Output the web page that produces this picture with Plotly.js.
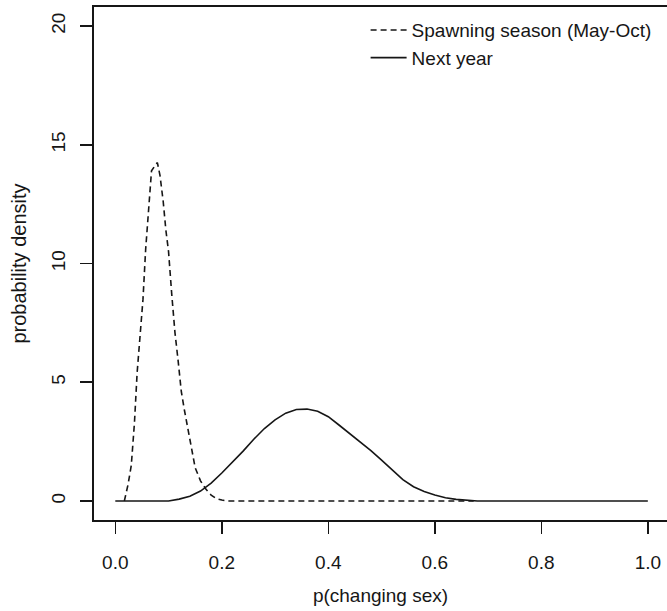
<!DOCTYPE html>
<html>
<head>
<meta charset="utf-8">
<script src="https://cdn.plot.ly/plotly-3.0.1.min.js"></script>
<style>
  html, body { margin: 0; padding: 0; background: #ffffff; }
  #chart { width: 667px; height: 611px; }
</style>
</head>
<body>
<div id="chart"></div>
<script>
// Series names
var seriesNames = ["Spawning season (May-Oct)", "Next year"];

// Spawning season (dashed) density curve
var spawnX = [0.017, 0.024, 0.030, 0.036, 0.041, 0.046, 0.052, 0.057, 0.063, 0.068, 0.074, 0.079,
              0.084, 0.090, 0.095, 0.100, 0.106, 0.112, 0.118, 0.124, 0.130, 0.140, 0.150, 0.160,
              0.170, 0.180, 0.190, 0.200, 0.210, 0.300, 0.400, 0.500, 0.600, 0.673];
var spawnY = [0.0, 0.7, 1.5, 3.3, 5.4, 6.8, 8.5, 10.6, 12.3, 13.9, 14.1, 14.25,
              13.7, 12.6, 11.4, 10.5, 8.7, 7.1, 5.9, 4.6, 3.8, 2.55, 1.4, 0.85,
              0.5, 0.25, 0.1, 0.04, 0.0, 0.0, 0.0, 0.0, 0.0, 0.0];

// Next year (solid) density curve
var nextX = [0.00, 0.02, 0.04, 0.06, 0.08, 0.10, 0.12, 0.14, 0.16, 0.18, 0.20, 0.22, 0.24,
             0.26, 0.28, 0.30, 0.32, 0.34, 0.36, 0.38, 0.40, 0.42, 0.44, 0.46, 0.48, 0.50,
             0.52, 0.54, 0.56, 0.58, 0.60, 0.62, 0.64, 0.66, 0.68, 0.70, 0.80, 0.90, 1.00];
var nextY = [0, 0, 0, 0, 0, 0.0, 0.08, 0.2, 0.42, 0.75, 1.18, 1.62, 2.1,
             2.6, 3.05, 3.42, 3.7, 3.85, 3.87, 3.78, 3.55, 3.2, 2.85, 2.48, 2.12, 1.72,
             1.33, 0.9, 0.6, 0.4, 0.25, 0.14, 0.07, 0.03, 0.0, 0, 0, 0, 0];

// Axis ticks
var xTicks = [0.0, 0.2, 0.4, 0.6, 0.8, 1.0];
var xTickLabels = ["0.0", "0.2", "0.4", "0.6", "0.8", "1.0"];
var yTicks = [0, 5, 10, 15, 20];
var yTickLabels = ["0", "5", "10", "15", "20"];

var ink = "#161616";
var fontFam = "Liberation Sans, Arial, sans-serif";

var traces = [
  {
    x: spawnX, y: spawnY, type: "scatter", mode: "lines", name: seriesNames[0],
    line: { color: ink, width: 1.6, dash: "6px,4px" }
  },
  {
    x: nextX, y: nextY, type: "scatter", mode: "lines", name: seriesNames[1],
    line: { color: ink, width: 1.6 }
  }
];

var layout = {
  width: 667, height: 611,
  margin: { l: 94, r: 0, t: 7, b: 91 },
  paper_bgcolor: "#ffffff",
  plot_bgcolor: "#ffffff",
  font: { family: fontFam, size: 19, color: ink },
  showlegend: true,
  legend: {
    x: 0.474, y: 0.992, xanchor: "left", yanchor: "top",
    bgcolor: "rgba(0,0,0,0)", borderwidth: 0,
    itemwidth: 36,
    font: { family: fontFam, size: 19, color: ink },
    tracegroupgap: 0
  },
  xaxis: {
    range: [-0.04, 1.036],
    tickmode: "array", tickvals: xTicks, ticktext: xTickLabels,
    ticks: "outside", ticklen: 12, tickwidth: 1.6, tickcolor: ink,
    showline: true, linecolor: ink, linewidth: 1.6, mirror: true,
    showgrid: false, zeroline: false,
    tickfont: { family: fontFam, size: 19, color: ink },
    ticklabelstandoff: 13,
    title: { text: "p(changing sex)", font: { family: fontFam, size: 19, color: ink }, standoff: 16 }
  },
  yaxis: {
    range: [-0.8, 20.8],
    tickmode: "array", tickvals: yTicks, ticktext: yTickLabels,
    ticks: "outside", ticklen: 12, tickwidth: 1.6, tickcolor: ink,
    tickangle: -90,
    showline: true, linecolor: ink, linewidth: 1.6, mirror: false,
    showgrid: false, zeroline: false,
    tickfont: { family: fontFam, size: 19, color: ink },
    ticklabelstandoff: 8,
    title: { text: "probability density", font: { family: fontFam, size: 20, color: ink }, standoff: 16 }
  }
};

Plotly.newPlot("chart", traces, layout, { staticPlot: true, displayModeBar: false });
</script>
</body>
</html>
